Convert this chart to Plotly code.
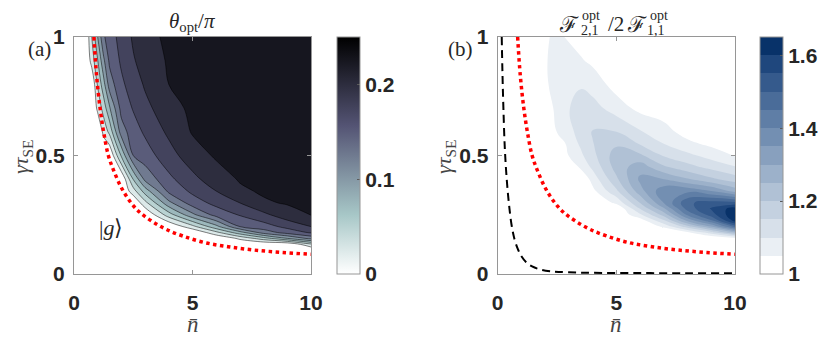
import plotly.graph_objects as go

# ---- panel (a): theta_opt / pi on a coarse grid ----
nbar_a = [0, 0.5, 0.75, 1, 1.25, 1.5, 2, 2.5, 3, 4, 5, 6, 7, 8, 9, 10]
gtau_a = [0, 0.05, 0.1, 0.125, 0.15, 0.175, 0.2, 0.25, 0.3, 0.35, 0.4,
          0.5, 0.6, 0.7, 0.8, 0.9, 1.0]
theta_a = [
    [0] * 16,
    [0] * 16,
    [0] * 16,
    [0] * 15 + [0.045],
    [0, 0, 0, 0, 0, 0, 0, 0, 0, 0, 0, 0, 0.03, 0.063, 0.099, 0.132],
    [0, 0, 0, 0, 0, 0, 0, 0, 0, 0, 0, 0.043, 0.09, 0.136, 0.16, 0.178],
    [0, 0, 0, 0, 0, 0, 0, 0, 0, 0, 0.042, 0.092, 0.15, 0.164, 0.182, 0.2],
    [0, 0, 0, 0, 0, 0, 0, 0, 0, 0.063, 0.119, 0.16, 0.177, 0.194, 0.215, 0.226],
    [0, 0, 0, 0, 0, 0, 0, 0, 0.042, 0.118, 0.163, 0.182, 0.2, 0.222, 0.227, 0.23],
    [0, 0, 0, 0, 0, 0, 0, 0.039, 0.087, 0.156, 0.18, 0.2, 0.221, 0.228, 0.231, 0.234],
    [0, 0, 0, 0, 0, 0, 0, 0.076, 0.132, 0.169, 0.193, 0.214, 0.227, 0.231, 0.234, 0.237],
    [0, 0, 0, 0, 0, 0, 0.079, 0.15, 0.163, 0.19, 0.214, 0.228, 0.232, 0.237, 0.24, 0.241],
    [0, 0, 0, 0, 0.032, 0.057, 0.138, 0.164, 0.179, 0.205, 0.227, 0.232, 0.238, 0.241, 0.242, 0.243],
    [0, 0, 0, 0.031, 0.061, 0.097, 0.159, 0.177, 0.193, 0.216, 0.23, 0.237, 0.241, 0.242, 0.243, 0.244],
    [0, 0, 0, 0.053, 0.091, 0.137, 0.17, 0.1875, 0.203, 0.225, 0.234, 0.24, 0.242, 0.243, 0.245, 0.245],
    [0, 0, 0.035, 0.074, 0.12, 0.155, 0.179, 0.198, 0.209, 0.228, 0.238, 0.241, 0.243, 0.245, 0.245, 0.245],
    [0, 0, 0.05, 0.1, 0.147, 0.161, 0.186, 0.203, 0.215, 0.231, 0.24, 0.242, 0.244, 0.245, 0.245, 0.245],
]

# ---- panel (b): F21 / 2 F11 ----
nbar_b = [0, 1, 2, 2.5, 3, 3.5, 4, 5, 6, 7, 8, 9, 10]
gtau_b = [0, 0.1, 0.125, 0.15, 0.175, 0.2, 0.225, 0.25, 0.275, 0.3, 0.35,
          0.4, 0.45, 0.5, 0.55, 0.6, 0.7, 0.8, 0.9, 1.0]
ratio_b = [
    [1] * 13,
    [1] * 13,
    [1] * 13,
    [1] * 12 + [1.03],
    [1, 1, 1, 1, 1, 1, 1, 1, 1, 1, 1.04, 1.127, 1.25],
    [1, 1, 1, 1, 1, 1, 1, 1, 1, 1.06, 1.18, 1.30, 1.47],
    [1, 1, 1, 1, 1, 1, 1, 1, 1.02, 1.14, 1.31, 1.44, 1.62],
    [1, 1, 1, 1, 1, 1, 1, 1, 1.09, 1.22, 1.41, 1.525, 1.645],
    [1, 1, 1, 1, 1, 1, 1, 1, 1.15, 1.29, 1.47, 1.555, 1.625],
    [1, 1, 1, 1, 1, 1, 1, 1.06, 1.20, 1.35, 1.49, 1.525, 1.52],
    [1, 1, 1, 1, 1, 1, 1.035, 1.14, 1.28, 1.385, 1.387, 1.35, 1.28],
    [1, 1, 1, 1, 1, 1, 1.07, 1.19, 1.31, 1.30, 1.255, 1.21, 1.175],
    [1, 1, 1, 1, 1, 1.06, 1.11, 1.22, 1.28, 1.21, 1.17, 1.136, 1.105],
    [1, 1, 1, 1, 1.052, 1.09, 1.135, 1.225, 1.21, 1.145, 1.113, 1.08, 1.045],
    [1, 1, 1, 1, 1.07, 1.108, 1.148, 1.19, 1.145, 1.10, 1.062, 1.038, 1.02],
    [1, 1, 1, 1.052, 1.085, 1.12, 1.153, 1.15, 1.105, 1.068, 1.03, 1.018, 1.005],
    [1, 1, 1.02, 1.064, 1.098, 1.12, 1.12, 1.075, 1.035, 1.025, 1.005, 1, 1],
    [1, 1, 1.042, 1.07, 1.09, 1.095, 1.078, 1.03, 1.015, 1, 1, 1, 1],
    [1, 1, 1.046, 1.066, 1.068, 1.055, 1.04, 1.01, 1, 1, 1, 1, 1],
    [1, 1, 1.045, 1.058, 1.045, 1.03, 1.02, 1, 1, 1, 1, 1, 1],
]

# red dotted boundary (same in both panels)
red_nbar = [0.84, 0.95, 1.1, 1.25, 1.45, 1.7, 2.05, 2.45, 2.8, 3.3, 3.9,
            4.6, 5.5, 6.5, 7.6, 8.8, 10.0]
red_gtau = [1.0, 0.84, 0.7, 0.6, 0.5, 0.43, 0.355, 0.295, 0.258, 0.222,
            0.188, 0.16, 0.133, 0.115, 0.101, 0.091, 0.083]

# black dashed curve (panel b)
dash_nbar = [0.17, 0.2, 0.24, 0.3, 0.38, 0.47, 0.58, 0.7, 0.85, 1.0, 1.2,
             1.45, 1.8, 2.3, 3.0, 4.0, 6.0, 8.0, 10.0]
dash_gtau = [1.0, 0.85, 0.7, 0.53, 0.4, 0.3, 0.21, 0.15, 0.105, 0.075, 0.05,
             0.032, 0.019, 0.011, 0.007, 0.005, 0.004, 0.003, 0.003]

# colour bands of the blue colormap, 1.00 ... 1.65 in steps of 0.05
blue_bands = ["rgb(255,255,255)", "rgb(234,239,244)", "rgb(215,224,234)",
              "rgb(196,209,224)", "rgb(176,193,213)", "rgb(156,177,202)",
              "rgb(136,160,190)", "rgb(115,143,178)", "rgb(95,126,166)",
              "rgb(74,108,153)", "rgb(53,90,140)", "rgb(31,71,125)",
              "rgb(8,50,105)"]

# the page body has an 8px margin, so the figure is drawn 8px in from the window corner
OFF = 8
W, H = 831 - OFF, 340 - OFF


def px(x):
    return (x - OFF) / W


def py(y):
    return 1 - (y - OFF) / H


fig = go.Figure()

# bone (reversed) colormap; contour bands coloured by their lower level
bone_fill = [[0, "rgb(255,255,255)"], [0.2778, "rgb(167,199,199)"],
             [0.6944, "rgb(84,84,116)"], [1, "rgb(22,22,31)"]]
bone_bar = [[0, "rgb(255,255,255)"], [0.25, "rgb(167,199,199)"],
            [0.625, "rgb(84,84,116)"], [1, "rgb(0,0,0)"]]

fig.add_trace(go.Contour(
    x=nbar_a, y=gtau_a, z=theta_a,
    contours=dict(start=0.025, end=0.225, size=0.025, coloring="fill"),
    colorscale=bone_fill, showscale=False,
    line=dict(color="black", width=0.5, smoothing=1),
    xaxis="x", yaxis="y", hoverinfo="skip",
))

blue_fill = [[k / 12, c] for k, c in enumerate(blue_bands)]
fig.add_trace(go.Contour(
    x=nbar_b, y=gtau_b, z=ratio_b,
    contours=dict(start=1.05, end=1.6, size=0.05, coloring="fill"),
    colorscale=blue_fill, showscale=False,
    line=dict(width=0, smoothing=1.3),
    xaxis="x2", yaxis="y2", hoverinfo="skip",
))

# curves
for ax in ("", "2"):
    fig.add_trace(go.Scatter(x=red_nbar, y=red_gtau, mode="lines",
                             line=dict(color="rgb(255,0,0)", width=3.5, dash="dot", shape="spline"),
                             xaxis="x" + ax, yaxis="y" + ax, showlegend=False, hoverinfo="skip"))
fig.add_trace(go.Scatter(x=dash_nbar, y=dash_gtau, mode="lines",
                         line=dict(color="black", width=2, dash="8px,5px", shape="spline"),
                         xaxis="x2", yaxis="y2", showlegend=False, hoverinfo="skip"))

# colorbars drawn from invisible marker traces
cb_common = dict(thickness=23, thicknessmode="pixels", len=237 / H, lenmode="fraction",
                 y=py(274), yanchor="bottom", xanchor="left", xpad=0, ypad=0,
                 outlinewidth=1, outlinecolor="rgb(150,150,150)",
                 ticks="inside", ticklen=3, tickcolor="rgb(90,90,90)",
                 tickfont=dict(family="Liberation Sans", size=21, color="#262626", weight="bold"))

fig.add_trace(go.Scatter(
    x=[None], y=[None], mode="markers", xaxis="x", yaxis="y", showlegend=False,
    marker=dict(color=[0], cmin=0, cmax=0.25, colorscale=bone_bar, showscale=True,
                colorbar=dict(x=px(337), tickvals=[0, 0.1, 0.2], ticktext=["0", "0.1", "0.2"],
                              **cb_common)),
))

blue_steps = []
for k, c in enumerate(blue_bands):
    blue_steps.append([k / 13, c])
    blue_steps.append([(k + 1) / 13, c])
fig.add_trace(go.Scatter(
    x=[None], y=[None], mode="markers", xaxis="x2", yaxis="y2", showlegend=False,
    marker=dict(color=[1], cmin=1, cmax=1.65, colorscale=blue_steps, showscale=True,
                colorbar=dict(x=px(760), tickvals=[1, 1.2, 1.4, 1.6], ticktext=["1", "1.2", "1.4", "1.6"],
                              **cb_common)),
))

axis_common = dict(showline=True, mirror="ticks", linecolor="rgb(150,150,150)", linewidth=1,
                   ticks="inside", ticklen=4, tickcolor="rgb(150,150,150)",
                   showgrid=False, zeroline=False, automargin=False,
                   tickfont=dict(family="Liberation Sans", size=21, color="#262626", weight="bold"))

fig.update_layout(
    width=W, height=H, margin=dict(l=0, r=0, t=0, b=0, autoexpand=False),
    paper_bgcolor="white", plot_bgcolor="white", showlegend=False,
    xaxis=dict(domain=[px(74), px(311)], range=[0, 10], tickvals=[0, 5, 10],
               ticklabelstandoff=10, anchor="y", **axis_common),
    yaxis=dict(domain=[py(274), py(37)], range=[0, 1], tickvals=[0, 0.5, 1],
               ticktext=["0", "0.5", "1"], ticklabelstandoff=4, anchor="x", **axis_common),
    xaxis2=dict(domain=[px(497.7), px(735)], range=[0, 10], tickvals=[0, 5, 10],
                ticklabelstandoff=10, anchor="y2", **axis_common),
    yaxis2=dict(domain=[py(274), py(37)], range=[0, 1], tickvals=[0, 0.5, 1],
                ticktext=["0", "0.5", "1"], ticklabelstandoff=4, anchor="x2", **axis_common),
)

serif = "Liberation Serif"


def note(text, x, y, size=21, color="#262626", angle=0, xanchor="center"):
    fig.add_annotation(text=text, x=px(x), y=py(y), xref="paper", yref="paper",
                       showarrow=False, xanchor=xanchor, yanchor="middle", textangle=angle,
                       font=dict(family=serif, size=size, color=color))


# panel titles
note("<i>θ</i><sub>opt</sub>/<i>π</i>", 192, 22, size=21)
note("ℱ", 569, 24, size=22)
note("opt", 591, 15, size=14)
note("2,1", 590, 30, size=14)
note("/2", 616, 24, size=21)
note("ℱ", 637, 24, size=22)
note("opt", 659, 15, size=14)
note("1,1", 656, 30, size=14)

# panel letters
note("(a)", 39, 49, size=21)
note("(b)", 460, 49, size=21)

# axis titles
for cx in (192.5, 616):
    note("<i>n̄</i>", cx, 324, size=23, color="#444")
for cx in (22, 445):
    note("<i>γτ</i><sub>SE</sub>", cx, 157, size=22, color="#444", angle=-90)

# state label
note("|<i>g</i>⟩", 111, 227, size=22)

fig.write_html("out.html")
